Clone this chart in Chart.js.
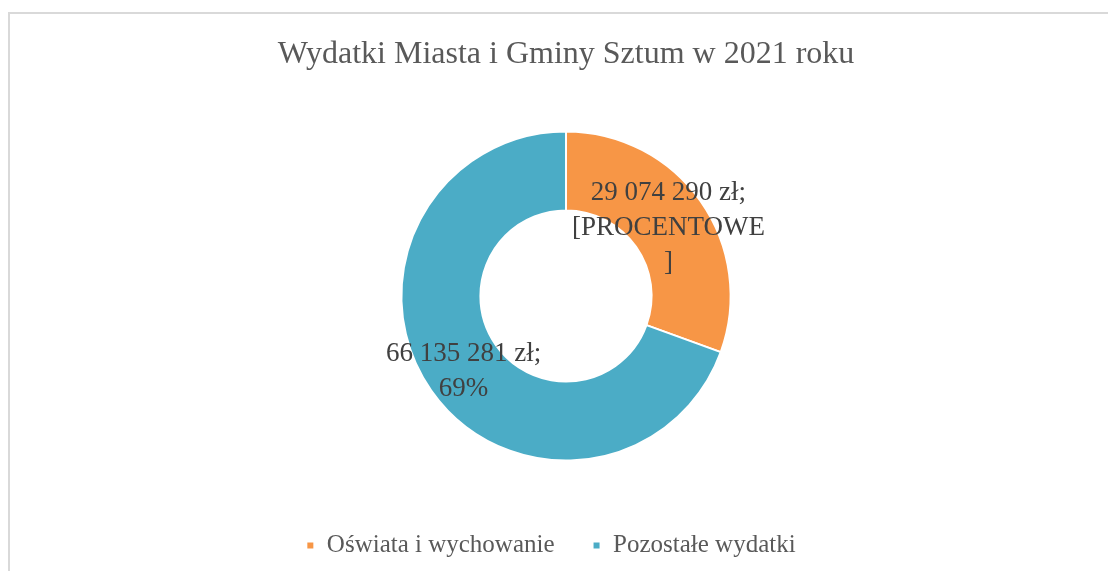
<!DOCTYPE html>
<html>
<head>
<meta charset="utf-8">
<script src="https://cdn.jsdelivr.net/npm/chart.js@4/dist/chart.umd.min.js"></script>
<style>
  html, body { margin: 0; padding: 0; background: #fff; overflow: hidden; }
  #frame {
    position: absolute; left: 8px; top: 12px; width: 1120px; height: 580px;
    border-left: 2px solid #d9d9d9; border-top: 2px solid #d9d9d9;
  }
  #wrap { position: absolute; left: 0; top: 0; width: 1108px; height: 571px; }
</style>
</head>
<body>
<div id="frame"></div>
<div id="wrap"><canvas id="myChart"></canvas></div>
<script>
// data
const chartTitle = 'Wydatki Miasta i Gminy Sztum w 2021 roku';
const categories = ['Oświata i wychowanie', 'Pozostałe wydatki'];
const amounts = [29074290, 66135281];
const percentLabels = [['[PROCENTOWE', ']'], ['69%']];
const sliceColors = ['#F79646', '#4BACC6'];

const serif = '"Liberation Serif", "Times New Roman", serif';

function formatZl(v) {
    return String(v).replace(/\B(?=(\d{3})+(?!\d))/g, ' ') + ' zł;';
}

// draws the value labels in the middle of each ring slice
const sliceLabels = {
    id: 'sliceLabels',
    afterDatasetsDraw(chart) {
        const ctx = chart.ctx;
        const meta = chart.getDatasetMeta(0);
        ctx.save();
        ctx.font = '27px ' + serif;
        ctx.fillStyle = '#404040';
        ctx.textAlign = 'center';
        ctx.textBaseline = 'middle';
        meta.data.forEach(function(arc, i) {
            const pos = arc.tooltipPosition();
            const lines = [formatZl(amounts[i])].concat(percentLabels[i]);
            const lh = 35;
            const y0 = pos.y + 4 - (lines.length - 1) * lh / 2;
            lines.forEach(function(t, j) {
                ctx.fillText(t, pos.x, y0 + j * lh);
            });
        });
        ctx.restore();
    }
};

// legend in the original sits a bit left of the ring's centre
const legendShift = {
    id: 'legendShift',
    afterLayout(chart) {
        chart.legend.left -= 15;
        chart.legend.right -= 15;
    }
};

const ctx = document.getElementById('myChart');
const myChart = new Chart(ctx, {
    type: 'doughnut',
    data: {
        labels: categories,
        datasets: [{
            data: amounts,
            backgroundColor: sliceColors,
            borderColor: '#ffffff',
            borderWidth: 2,
            hoverOffset: 0
        }]
    },
    options: {
        responsive: true,
        maintainAspectRatio: false,
        animation: false,
        cutout: '52%',
        layout: { padding: { left: 24, right: 0, top: 0, bottom: 3 } },
        plugins: {
            title: {
                display: true,
                text: chartTitle,
                color: '#595959',
                font: { family: serif, size: 32, weight: 'normal' },
                padding: { top: 35, bottom: 57 }
            },
            legend: {
                position: 'bottom',
                title: { display: true, text: '', font: { size: 22 }, padding: { top: 7, bottom: 0 } },
                labels: {
                    color: '#595959',
                    font: { family: serif, size: 25 },
                    boxWidth: 8,
                    boxHeight: 8,
                    padding: 38
                }
            },
            tooltip: { enabled: false }
        }
    },
    plugins: [sliceLabels, legendShift]
});
</script>
</body>
</html>
